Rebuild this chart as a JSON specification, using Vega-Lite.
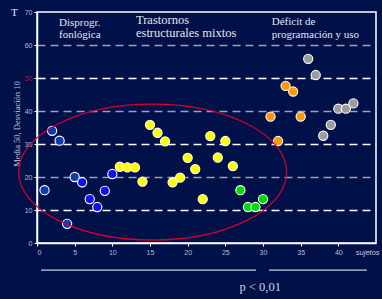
{
  "$schema": "https://vega.github.io/schema/vega-lite/v6.json",
  "autosize": {"type": "none"},
  "padding": {"left": 37, "top": 12, "right": 6, "bottom": 56},
  "width": 339,
  "height": 231,
  "background": "#00114a",
  "config": {
    "view": {"stroke": "#ffffff", "strokeWidth": 1.5},
    "axis": {"labelFont": "Liberation Sans", "labelFontSize": 7, "labelColor": "#b8bcd0", "domainColor": "#ffffff", "domainWidth": 1.5, "tickColor": "#ffffff", "tickSize": 3, "labelPadding": 2, "labelOverlap": false}
  },
  "datasets": {
    "pts": [
      {"x": 1, "y": 16, "g": "a"}, {"x": 2, "y": 34, "g": "a"}, {"x": 3, "y": 31, "g": "a"}, {"x": 4, "y": 5.8, "g": "a"}, {"x": 5, "y": 20, "g": "a"},
      {"x": 6, "y": 18.4, "g": "b"}, {"x": 7, "y": 13.3, "g": "b"}, {"x": 8, "y": 10.9, "g": "b"}, {"x": 9, "y": 15.8, "g": "b"}, {"x": 10, "y": 20.9, "g": "b"},
      {"x": 11, "y": 23.1, "g": "c"}, {"x": 12, "y": 22.9, "g": "c"}, {"x": 13, "y": 22.9, "g": "c"}, {"x": 14, "y": 18.6, "g": "c"}, {"x": 15, "y": 35.8, "g": "c"}, {"x": 16, "y": 33.4, "g": "c"}, {"x": 17, "y": 30.8, "g": "c"}, {"x": 18, "y": 18.4, "g": "c"}, {"x": 19, "y": 19.8, "g": "c"}, {"x": 20, "y": 25.8, "g": "c"}, {"x": 21, "y": 22.4, "g": "c"}, {"x": 22, "y": 13.3, "g": "c"}, {"x": 23, "y": 32.4, "g": "c"}, {"x": 24, "y": 25.9, "g": "c"}, {"x": 25, "y": 30.9, "g": "c"}, {"x": 26, "y": 23.3, "g": "c"},
      {"x": 27, "y": 16, "g": "d"}, {"x": 28, "y": 10.9, "g": "d"}, {"x": 29, "y": 10.9, "g": "d"}, {"x": 30, "y": 13.3, "g": "d"},
      {"x": 31, "y": 38.3, "g": "e"}, {"x": 32, "y": 30.9, "g": "e"}, {"x": 33, "y": 47.6, "g": "e"}, {"x": 34, "y": 45.9, "g": "e"}, {"x": 35, "y": 38.3, "g": "e"},
      {"x": 36, "y": 55.8, "g": "f"}, {"x": 37, "y": 50.9, "g": "f"}, {"x": 38, "y": 32.5, "g": "f"}, {"x": 39, "y": 35.8, "g": "f"}, {"x": 40, "y": 40.7, "g": "f"}, {"x": 41, "y": 40.7, "g": "f"}, {"x": 42, "y": 42.3, "g": "f"}
    ],
    "cats": [
      {"x": 2.92, "y": 66.8, "t": "Disprogr."},
      {"x": 2.92, "y": 63.0, "t": "fonlógica"},
      {"x": 31.16, "y": 67.1, "t": "Déficit de"},
      {"x": 31.16, "y": 63.0, "t": "programación y uso"}
    ],
    "cats2": [
      {"x": 13.14, "y": 67.6, "t": "Trastornos"},
      {"x": 13.14, "y": 63.5, "t": "estructurales mixtos"}
    ],
    "lines": [
      {"x": 0.53, "xe": 29.07, "y": -8.2},
      {"x": 30.8, "xe": 43.8, "y": -8.2}
    ],
    "ell": [{"x": 15.35, "y": 21.5}]
  },
  "encoding": {
    "x": {"field": "x", "type": "quantitative", "scale": {"domain": [0, 45], "nice": false},
      "axis": {"values": [0, 5, 10, 15, 20, 25, 30, 35, 40], "title": null, "grid": false}},
    "y": {"field": "y", "type": "quantitative", "scale": {"domain": [0, 70], "nice": false},
      "axis": {"values": [0, 10, 20, 30, 40, 50, 60, 70], "title": "Media 50, Desviación 10",
        "titleFont": "Liberation Serif", "titleFontSize": 8.5, "titleFontWeight": "normal", "titleColor": "#c8c8d8",
        "titleX": -21, "titleY": 111.5, "titleAngle": -90, "titleAlign": "center", "titleBaseline": "middle",
        "labelColor": {"condition": {"test": "datum.value == 50", "value": "#b01040"}, "value": "#b8bcd0"},
        "grid": true, "gridDash": [8, 5], "gridWidth": 1.6,
        "gridColor": {"condition": {"test": "datum.value % 20 == 0", "value": "#9aa0b8"}, "value": "#ffffff"},
        "gridOpacity": {"condition": {"test": "datum.value == 0 || datum.value == 70", "value": 0}, "value": 1}}}
  },
  "layer": [
    {
      "data": {"name": "pts"},
      "mark": {"type": "circle", "size": 85, "stroke": "#ffffff", "strokeWidth": 1.1, "opacity": 1},
      "encoding": {
        "color": {"field": "g", "type": "nominal", "legend": null,
          "scale": {"domain": ["a", "b", "c", "d", "e", "f"], "range": ["#0c3cae", "#1010f0", "#ffff00", "#00dc00", "#ff9900", "#9c9c9c"]}}
      }
    },
    {
      "data": {"name": "ell"},
      "mark": {"type": "point", "shape": "M -1 0 C -1 -0.2803 -0.5523 -0.5075 0 -0.5075 C 0.5523 -0.5075 1 -0.2803 1 0 C 1 0.2803 0.5523 0.5075 0 0.5075 C -0.5523 0.5075 -1 0.2803 -1 0 Z", "size": 71824, "filled": false, "stroke": "#d8002c", "strokeWidth": 1.2, "opacity": 1},
      "encoding": {}
    },
    {
      "data": {"name": "lines"},
      "mark": {"type": "rule", "color": "#c8cce0", "strokeWidth": 1.2},
      "encoding": {
        "x2": {"field": "xe"}
      }
    },
    {
      "data": {"name": "cats"},
      "mark": {"type": "text", "font": "Liberation Serif", "fontSize": 11, "color": "#e4e4f0", "align": "left", "baseline": "middle"},
      "encoding": {"text": {"field": "t"}}
    },
    {
      "data": {"name": "cats2"},
      "mark": {"type": "text", "font": "Liberation Serif", "fontSize": 12.5, "color": "#e4e4f0", "align": "left", "baseline": "middle"},
      "encoding": {"text": {"field": "t"}}
    },
    {
      "data": {"values": [{"x": -3.0, "y": 69.7, "t": "T"}]},
      "mark": {"type": "text", "font": "Liberation Serif", "fontSize": 11, "color": "#e4e4f0", "align": "center", "baseline": "middle"},
      "encoding": {"text": {"field": "t"}}
    },
    {
      "data": {"values": [{"x": 29.64, "y": -13.24, "t": "p < 0,01"}]},
      "mark": {"type": "text", "font": "Liberation Serif", "fontSize": 12.5, "color": "#d0d0e0", "align": "center", "baseline": "middle"},
      "encoding": {"text": {"field": "t"}}
    },
    {
      "data": {"values": [{"x": 43.9, "y": -2.94, "t": "sujetos"}]},
      "mark": {"type": "text", "font": "Liberation Sans", "fontSize": 7.5, "fontStyle": "italic", "color": "#c8cce0", "align": "center", "baseline": "middle"},
      "encoding": {"text": {"field": "t"}}
    }
  ]
}
